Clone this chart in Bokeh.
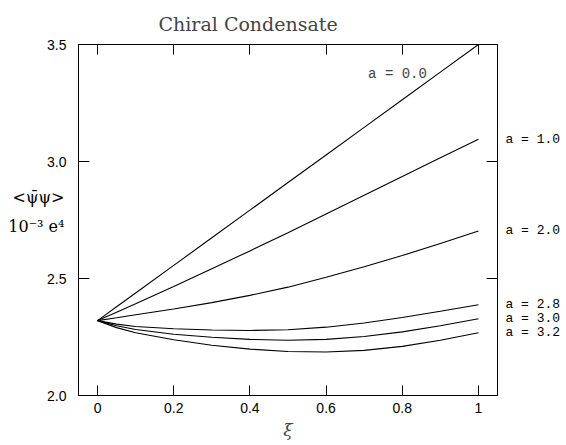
from bokeh.plotting import figure
from bokeh.models import Range1d, LinearAxis, FixedTicker, Label, PrintfTickFormatter
from bokeh.embed import file_html
from bokeh.resources import INLINE

# ---- data ----
xi = [0.0, 0.05, 0.1, 0.2, 0.3, 0.4, 0.5, 0.6, 0.7, 0.8, 0.9, 1.0]
cond_a00 = [2.32, 2.379, 2.438, 2.556, 2.674, 2.792, 2.91, 3.028, 3.146, 3.264, 3.382, 3.50]
cond_a10 = [2.32, 2.356, 2.392, 2.466, 2.542, 2.618, 2.696, 2.776, 2.856, 2.936, 3.016, 3.095]
cond_a20 = [2.32, 2.332, 2.345, 2.370, 2.397, 2.428, 2.463, 2.505, 2.550, 2.598, 2.650, 2.703]
cond_a28 = [2.32, 2.305, 2.295, 2.285, 2.280, 2.278, 2.281, 2.292, 2.310, 2.333, 2.360, 2.388]
cond_a30 = [2.32, 2.298, 2.282, 2.262, 2.249, 2.240, 2.236, 2.240, 2.252, 2.272, 2.298, 2.328]
cond_a32 = [2.32, 2.290, 2.268, 2.238, 2.215, 2.198, 2.188, 2.186, 2.193, 2.210, 2.236, 2.268]
series = [cond_a00, cond_a10, cond_a20, cond_a28, cond_a30, cond_a32]
series_labels = ["a = 0.0", "a = 1.0", "a = 2.0", "a = 2.8", "a = 3.0", "a = 3.2"]

x_ticks = [0, 0.2, 0.4, 0.6, 0.8, 1]
x_tick_labels = ["0", "0.2", "0.4", "0.6", "0.8", "1"]
y_ticks = [2.0, 2.5, 3.0, 3.5]

title_text = "Chiral Condensate"
x_label = "ξ"
y_label_lines = ["<ψ̄ψ>", "10⁻³ e⁴"]

# ---- layout constants (pixels) ----
W, H = 566, 445
FL, FR, FT, FB = 78, 497, 44, 395
X0, X1 = -0.05, 1.05
Y0, Y1 = 2.0, 3.5

def px2x(px):
    return X0 + (px - FL) * (X1 - X0) / (FR - FL)

def py2y(py):
    return Y0 + (FB - py) * (Y1 - Y0) / (FB - FT)

p = figure(width=W, height=H, output_backend="svg", toolbar_location=None,
           x_range=Range1d(X0, X1), y_range=Range1d(Y0, Y1),
           x_axis_location=None, y_axis_location=None,
           min_border_left=FL, min_border_right=W - FR,
           min_border_top=FT, min_border_bottom=H - FB)
p.grid.grid_line_color = None
p.outline_line_color = "black"
p.outline_line_width = 1
p.background_fill_color = "white"
p.border_fill_color = "white"

# title
p.title.text = title_text
p.title.text_font = "DejaVu Serif"
p.title.text_font_style = "normal"
p.title.text_font_size = "19px"
p.title.align = "left"
p.title.offset = 80
p.title.standoff = 20

tick_font = "Liberation Sans"

def tick_axis(ticks, tick_len):
    ax = LinearAxis(ticker=FixedTicker(ticks=ticks))
    ax.major_tick_in = tick_len
    ax.major_tick_out = 0
    ax.minor_tick_line_color = None
    ax.axis_line_color = "black"
    ax.major_tick_line_color = "black"
    ax.major_label_text_font = tick_font
    ax.major_label_text_font_size = "14px"
    ax.major_label_text_color = "black"
    return ax

def text_axis(ticks, texts, font, size, standoff):
    ax = LinearAxis(ticker=FixedTicker(ticks=ticks))
    ax.major_label_overrides = {t: s for t, s in zip(ticks, texts)}
    ax.major_tick_in = 0
    ax.major_tick_out = 0
    ax.axis_line_color = None
    ax.major_tick_line_color = None
    ax.minor_tick_line_color = None
    ax.major_label_text_font = font
    ax.major_label_text_font_size = size
    ax.major_label_text_color = "black"
    ax.major_label_standoff = standoff
    return ax

# bottom: ticks + labels + xi
bottom = tick_axis(x_ticks, 10)
bottom.major_label_overrides = {t: s for t, s in zip(x_ticks, x_tick_labels)}
bottom.major_label_standoff = 7
bottom.axis_label = x_label
bottom.axis_label_text_font = "DejaVu Serif"
bottom.axis_label_text_font_style = "italic"
bottom.axis_label_text_font_size = "17px"
bottom.axis_label_standoff = 4
p.add_layout(bottom, "below")

# top: ticks only
top = tick_axis(x_ticks, 10)
top.major_label_overrides = {t: "" for t in x_ticks}
top.major_label_standoff = 0
p.add_layout(top, "above")

# left: ticks + labels
left = tick_axis(y_ticks, 11)
left.formatter = PrintfTickFormatter(format="%.1f")
left.major_label_standoff = 12
p.add_layout(left, "left")

# left, outer: the y label as two text lines
ylab_pos = [py2y(197), py2y(226)]
ylab = text_axis(ylab_pos, y_label_lines, "DejaVu Serif", "16px", -20)
p.add_layout(ylab, "left")

# right: ticks only
right = tick_axis(y_ticks, 11)
right.major_label_overrides = {t: "" for t in y_ticks}
right.major_label_standoff = 0
p.add_layout(right, "right")

# right, outer: curve labels at the curve end values
end_vals = [s[-1] for s in series[1:]]
rlab = text_axis(end_vals, series_labels[1:], "Liberation Mono", "13px", 8)
p.add_layout(rlab, "right")

for ys in series:
    p.line(xi, ys, line_color="black", line_width=1.1)

# label for a = 0.0 sits inside the frame
p.add_layout(Label(x=px2x(397), y=py2y(73), text=series_labels[0],
                   text_font="Liberation Mono", text_font_size="14px",
                   text_align="center", text_baseline="middle"))

open("out.html", "w").write(file_html(p, INLINE))
